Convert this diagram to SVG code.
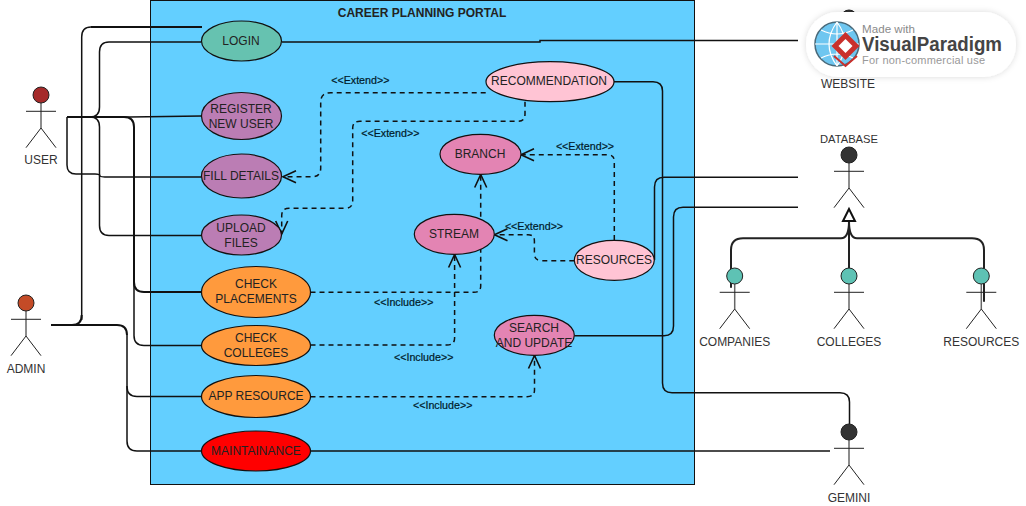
<svg xmlns="http://www.w3.org/2000/svg" width="1026" height="506" viewBox="0 0 1026 506">
<style>
text{font-family:"Liberation Sans",Arial,sans-serif;font-size:12px;fill:#222;text-anchor:middle}
.uc{stroke:#111;stroke-width:1.2}
.a text,text.a{fill:#333}
.lbl{font-size:10.7px;fill:#001a2a;stroke:#001a2a;stroke-width:.2}
.assoc{fill:none;stroke:#111;stroke-width:1.5}
.thick{stroke-width:2}
.dash{fill:none;stroke:#111;stroke-width:1.5;stroke-dasharray:5 4}
.gen{fill:none;stroke:#222;stroke-width:2}
.head{stroke:#222;stroke-width:1}
.limb{fill:none;stroke:#222;stroke-width:1}
.spine{fill:none;stroke:#666;stroke-width:1.5}
</style>
<defs>
<marker id="open" markerUnits="userSpaceOnUse" markerWidth="16" markerHeight="16" refX="14" refY="8" orient="auto">
<path d="M1,2 L14,8 L1,14" fill="none" stroke="#111" stroke-width="1.6"/>
</marker>
<g id="stick">
<path class="spine" d="M0,8V33"/>
<path class="limb" d="M-15,16.300H15M-15,52.700L0,33L15,52.700"/>
</g>
<filter id="soft" x="-10%" y="-20%" width="120%" height="140%">
<feDropShadow dx="0" dy="0" stdDeviation="3" flood-color="#000" flood-opacity=".15"/>
</filter>
</defs>

<g id="system">
<rect x="150.500" y=".5" width="544" height="484" fill="#63CFFF" stroke="#111"/>
<text x="422" y="17" style="font-weight:bold;font-size:12px">CAREER PLANNING PORTAL</text>
</g>

<g id="connectors">
<path class="assoc" d="M81.700,320V37Q81.700,27 91,27"/>
<path class="assoc thick" d="M51,325H72Q81.700,325 81.700,315M91,27H202"/>
<path class="assoc" d="M67,117H90Q99.500,117 99.500,107V52Q99.500,42 109,42H201.500"/>
<path class="assoc" d="M67,117H130L201.500,116"/>
<path class="assoc" d="M67,117V165Q67,174 76,174H95Q100,174 100,176Q100,177 109,177H201.500"/>
<path class="assoc" d="M67,117H90Q99.500,117 99.500,127V225.500Q99.500,235.500 109,235.500H201.500"/>
<path class="assoc thick" d="M67,117H124Q134,117 134,127V282Q134,292 144,292H201.500"/>
<path class="assoc" d="M134,250V335.500Q134,345.500 144,345.500H201.500"/>
<path class="assoc thick" d="M51,325H117Q127,325 127,335"/>
<path class="assoc" d="M127,335V386.500Q127,396.500 137,396.500H201.500"/>
<path class="assoc" d="M127,386V441Q127,451 137,451H201.500"/>
<path class="assoc" d="M282,42H540V40.500H798"/>
<path class="assoc" d="M310.500,451H830"/>
<path class="assoc" d="M614,81.700H653Q662.500,81.700 662.500,91V383Q662.500,392.700 672,392.700H840Q849.500,392.700 849.500,402V424"/>
<path class="assoc" d="M654.500,260V187Q654.500,177.300 664,177.300H798"/>
<path class="assoc" d="M574.300,335.700H664Q673.500,335.700 673.500,326V217Q673.500,207.300 683,207.300H798"/>
<path class="gen" d="M849,221V268"/>
<path class="gen" d="M731,287.700V250Q731,238.300 743,238.300H841Q849,238.300 849,221"/>
<path class="gen" d="M984,301.700V250Q984,238.300 972,238.300H857Q849,238.300 849,221"/>
<polygon points="849,209 843,221 855,221" fill="#fff" stroke="#111" stroke-width="2"/>
<path class="dash" marker-end="url(#open)" d="M485.700,92.700H331Q320.700,92.700 320.700,102V168Q320.700,176.700 312,176.700H283"/>
<path class="dash" marker-end="url(#open)" d="M525,101.700V114Q525,121.300 518,121.300H360Q352.700,121.300 352.700,128V201Q352.700,208.300 345,208.300H289Q281.700,208.300 281.700,216V234"/>
<path class="dash" marker-end="url(#open)" d="M614.300,240V161Q614.300,154.700 607,154.700H521"/>
<path class="dash" marker-end="url(#open)" d="M574.300,260.700H542Q534.400,260.700 534.400,254V241Q534.400,234.700 528,234.700H494.500"/>
<path class="dash" marker-end="url(#open)" d="M310.500,292.300H474Q480.700,292.300 480.700,286V174.500"/>
<path class="dash" marker-end="url(#open)" d="M310.500,345H447Q454.600,345 454.600,338V254.500"/>
<path class="dash" marker-end="url(#open)" d="M310.500,396.700H527Q534.500,396.700 534.500,390V355.500"/>
<text class="lbl" x="360.300" y="84">&lt;&lt;Extend&gt;&gt;</text>
<text class="lbl" x="390.300" y="137">&lt;&lt;Extend&gt;&gt;</text>
<text class="lbl" x="585" y="150">&lt;&lt;Extend&gt;&gt;</text>
<text class="lbl" x="534" y="230">&lt;&lt;Extend&gt;&gt;</text>
<text class="lbl" x="403.700" y="306">&lt;&lt;Include&gt;&gt;</text>
<text class="lbl" x="423.700" y="361">&lt;&lt;Include&gt;&gt;</text>
<text class="lbl" x="442.700" y="409">&lt;&lt;Include&gt;&gt;</text>
</g>

<g id="uc-login"><ellipse class="uc" cx="241.500" cy="41" rx="40" ry="20" fill="#66C2B0"/><text x="241" y="45">LOGIN</text></g>
<g id="uc-register"><ellipse class="uc" cx="241.500" cy="116" rx="40" ry="23.500" fill="#BB7DB4"/><text x="241" y="113">REGISTER</text><text x="241" y="128">NEW USER</text></g>
<g id="uc-fill"><ellipse class="uc" cx="241.500" cy="176" rx="40" ry="22" fill="#BB7DB4"/><text x="241" y="180">FILL DETAILS</text></g>
<g id="uc-upload"><ellipse class="uc" cx="241.500" cy="235" rx="40" ry="20" fill="#BB7DB4"/><text x="241" y="232">UPLOAD</text><text x="241" y="247">FILES</text></g>
<g id="uc-placements"><ellipse class="uc" cx="256" cy="292" rx="54.500" ry="25.500" fill="#FF9A3D"/><text x="256" y="288">CHECK</text><text x="256" y="303">PLACEMENTS</text></g>
<g id="uc-colleges"><ellipse class="uc" cx="256" cy="345.500" rx="54.500" ry="20" fill="#FF9A3D"/><text x="256" y="342">CHECK</text><text x="256" y="357">COLLEGES</text></g>
<g id="uc-appresource"><ellipse class="uc" cx="256" cy="396.500" rx="54.500" ry="21" fill="#FF9A3D"/><text x="256" y="400">APP RESOURCE</text></g>
<g id="uc-maintainance"><ellipse class="uc" cx="256" cy="451" rx="54.500" ry="20" fill="#FF0000"/><text x="256" y="455">MAINTAINANCE</text></g>
<g id="uc-recommendation"><ellipse class="uc" cx="550" cy="81.700" rx="64" ry="20" fill="#FFC4D4"/><text x="549" y="85">RECOMMENDATION</text></g>
<g id="uc-branch"><ellipse class="uc" cx="480.500" cy="154.300" rx="40.500" ry="20" fill="#E384B3"/><text x="480" y="158">BRANCH</text></g>
<g id="uc-stream"><ellipse class="uc" cx="454.300" cy="234.300" rx="40" ry="20" fill="#E384B3"/><text x="454" y="238">STREAM</text></g>
<g id="uc-resources"><ellipse class="uc" cx="614.300" cy="260.300" rx="40" ry="20" fill="#FFC4D4"/><text x="614" y="264">RESOURCES</text></g>
<g id="uc-search"><ellipse class="uc" cx="534.300" cy="335.300" rx="40" ry="20" fill="#E384B3"/><text x="534" y="332">SEARCH</text><text x="534" y="347">AND UPDATE</text></g>

<g id="actor-user" class="a"><use href="#stick" x="41" y="95"/><circle class="head" cx="41" cy="95" r="8" fill="#A52A2A"/><text x="41" y="164">USER</text></g>
<g id="actor-admin" class="a"><use href="#stick" x="26" y="303"/><circle class="head" cx="26" cy="303" r="8" fill="#C44B27"/><text x="26" y="373">ADMIN</text></g>
<g id="actor-database" class="a"><use href="#stick" x="849" y="155"/><circle class="head" cx="849" cy="155" r="8" fill="#333"/><text x="849" y="143" style="font-size:11.200px">DATABASE</text></g>
<g id="actor-companies" class="a"><use href="#stick" x="734.700" y="276"/><circle class="head" cx="734.700" cy="276" r="8" fill="#5EC2B4"/><text x="734.700" y="346">COMPANIES</text></g>
<g id="actor-colleges" class="a"><use href="#stick" x="849" y="276"/><circle class="head" cx="849" cy="276" r="8" fill="#5EC2B4"/><text x="849" y="346">COLLEGES</text></g>
<g id="actor-resources" class="a"><use href="#stick" x="981.300" y="276"/><circle class="head" cx="981.300" cy="276" r="8" fill="#5EC2B4"/><text x="981.300" y="346">RESOURCES</text></g>
<g id="actor-gemini" class="a"><use href="#stick" x="849" y="432"/><circle class="head" cx="849" cy="432" r="8" fill="#333"/><text x="849" y="502">GEMINI</text></g>
<g id="actor-website" class="a"><use href="#stick" x="849" y="18"/><circle class="head" cx="849" cy="18" r="8" fill="#333"/><text x="848" y="88">WEBSITE</text></g>

<g id="watermark">
<rect x="806" y="12" width="210" height="65" rx="32" fill="#fff" filter="url(#soft)"/>
<circle cx="837" cy="44" r="22" fill="#6EC6F0" stroke="#4A6A7A" stroke-width="1.500"/>
<path d="M815,44H859M837,22V66M821,30Q837,38 853,30M821,58Q837,50 853,58M837,22Q821,44 837,66M837,22Q853,44 837,66" fill="none" stroke="#fff" stroke-width="1.200"/>
<path d="M845.500,32L859.500,46L845.500,60L831.500,46Z" fill="#C9302C"/>
<path d="M845.500,39L852.500,46L845.500,53L838.500,46Z" fill="#fff"/>
<path d="M834,56L845.500,66L857,56" fill="none" stroke="#C9302C" stroke-width="2"/>
<text x="888.500" y="33" style="font-size:11.600px;fill:#8a8a8a">Made with</text>
<text x="932" y="51" style="font-size:20px;font-weight:bold;fill:#444" textLength="140" lengthAdjust="spacingAndGlyphs">VisualParadigm</text>
<text x="923.500" y="64" style="font-size:11px;fill:#999" textLength="123">For non-commercial use</text>
</g>
</svg>
